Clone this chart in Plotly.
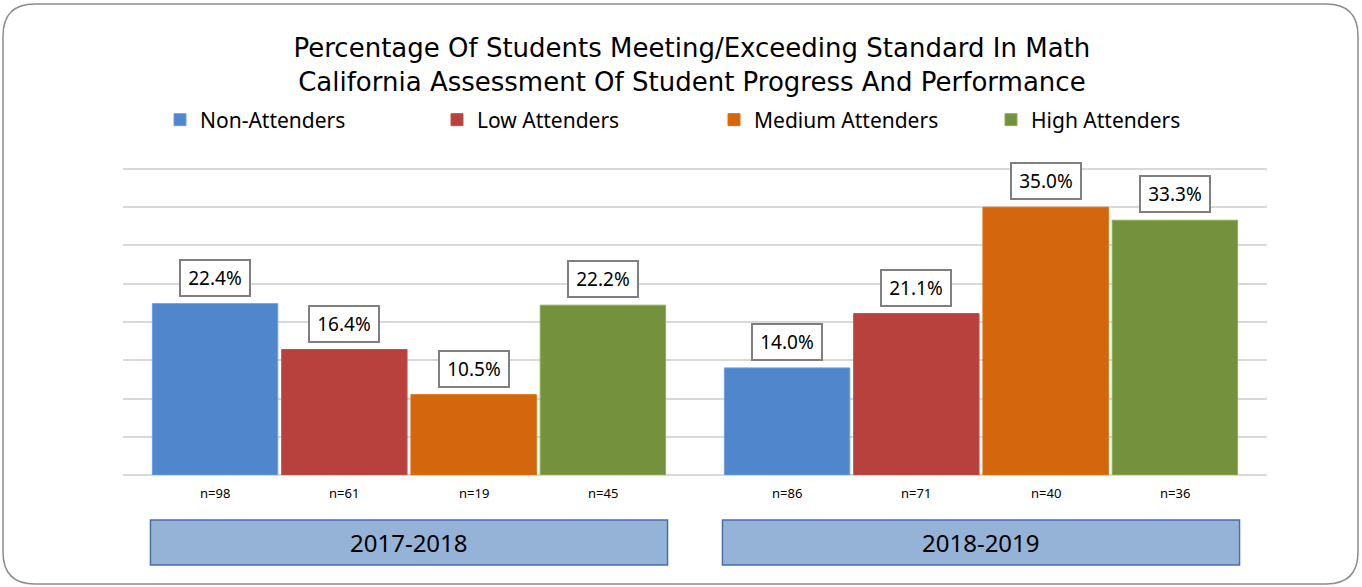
import plotly.graph_objects as go

years = ["2017-2018", "2018-2019"]
series = ["Non-Attenders", "Low Attenders", "Medium Attenders", "High Attenders"]
values = {
    "Non-Attenders": [22.4, 14.0],
    "Low Attenders": [16.4, 21.1],
    "Medium Attenders": [10.5, 35.0],
    "High Attenders": [22.2, 33.3],
}
counts = {
    "Non-Attenders": [98, 86],
    "Low Attenders": [61, 71],
    "Medium Attenders": [19, 40],
    "High Attenders": [45, 36],
}
colors = ["#4F86CC", "#B8403D", "#D4660E", "#74923D"]
edge = ["#6C9FE0", "#C0504D", "#E46C0A", "#8DB04F"]

W, H = 1362, 587
L, R, T, B = 123, 95, 167, 112
pw, ph = W - L - R, H - T - B
YMAX = 40.26
def px(x):
    return (x - L) / pw
def py(y):
    return (H - B - y) / ph

bargap = 0.096
groupgap = 0.03
slot = (1 - bargap) / len(series)

fig = go.Figure()
annotations = []
for i, s in enumerate(series):
    fig.add_trace(go.Bar(
        name=s, x=years, y=values[s],
        marker=dict(color=colors[i], line=dict(color=edge[i], width=1)),
        hoverinfo="skip",
    ))
    for c, yr in enumerate(years):
        xc = c + (i - (len(series) - 1) / 2) * slot
        annotations.append(dict(
            x=xc, y=values[s][c], xref="x", yref="y", text=f"{values[s][c]:.1f}%",
            showarrow=False, yanchor="bottom", yshift=7,
            width=58, height=24,
            font=dict(family="Noto Sans", size=19, color="#000"),
            bgcolor="white", bordercolor="#7F7F7F", borderwidth=2, borderpad=5,
        ))
        annotations.append(dict(
            x=xc, y=0, xref="x", yref="y", text=f"n={counts[s][c]}",
            showarrow=False, yanchor="top", yshift=-7,
            font=dict(family="Noto Sans", size=13, color="#000"),
        ))

shapes = []
for c, yr in enumerate(years):
    shapes.append(dict(
        type="rect", xref="x", yref="paper",
        x0=c - (1 - bargap) / 2, x1=c + (1 - bargap) / 2,
        y0=py(565), y1=py(520),
        fillcolor="#95B3D7", line=dict(color="#4A6FA8", width=1.5), layer="above",
    ))
    annotations.append(dict(
        x=c, y=py(542.5), xref="x", yref="paper", text=yr, showarrow=False,
        font=dict(family="Noto Sans", size=24, color="#000"), yanchor="middle",
    ))

# outer rounded border
x0, x1, y0, y1, r = 3, 1358, 4, 584, 32
path = (f"M {px(x0 + r)} {py(y0)} L {px(x1 - r)} {py(y0)} "
        f"Q {px(x1)} {py(y0)} {px(x1)} {py(y0 + r)} L {px(x1)} {py(y1 - r)} "
        f"Q {px(x1)} {py(y1)} {px(x1 - r)} {py(y1)} L {px(x0 + r)} {py(y1)} "
        f"Q {px(x0)} {py(y1)} {px(x0)} {py(y1 - r)} L {px(x0)} {py(y0 + r)} "
        f"Q {px(x0)} {py(y0)} {px(x0 + r)} {py(y0)} Z")
shapes.append(dict(type="path", xref="paper", yref="paper", path=path,
                   line=dict(color="#8C8C8C", width=1.5), layer="below"))

fig.update_layout(
    width=W, height=H,
    margin=dict(l=L, r=R, t=T, b=B, autoexpand=False),
    paper_bgcolor="white", plot_bgcolor="white",
    barmode="group", bargap=bargap, bargroupgap=groupgap,
    title=dict(
        text="Percentage Of Students Meeting/Exceeding Standard In Math<br>California Assessment Of Student Progress And Performance",
        x=0.508, xanchor="center", y=1 - 57 / H, yanchor="middle",
        font=dict(family="DejaVu Sans", size=26, color="#000"),
    ),
    legend=dict(
        orientation="h", x=px(160), xanchor="left", y=py(120), yanchor="middle",
        entrywidth=232, entrywidthmode="pixels",
        font=dict(family="Noto Sans", size=21, color="#000"),
        bgcolor="rgba(0,0,0,0)", itemclick=False,
    ),
    xaxis=dict(showticklabels=False, showgrid=False, zeroline=False, showline=False,
               range=[-0.5, 1.5], fixedrange=True),
    yaxis=dict(range=[0, YMAX], tickvals=[0, 5, 10, 15, 20, 25, 30, 35, 40],
               showticklabels=False, showgrid=True,
               gridcolor="#D9D9D9", gridwidth=2, zeroline=True, zerolinecolor="#D9D9D9",
               zerolinewidth=2, showline=False, fixedrange=True),
    annotations=annotations, shapes=shapes,
    showlegend=True,
)

fig.write_html("out.html", config={"displayModeBar": False},
               post_script="document.body.style.margin='0';document.body.style.overflow='hidden';")
